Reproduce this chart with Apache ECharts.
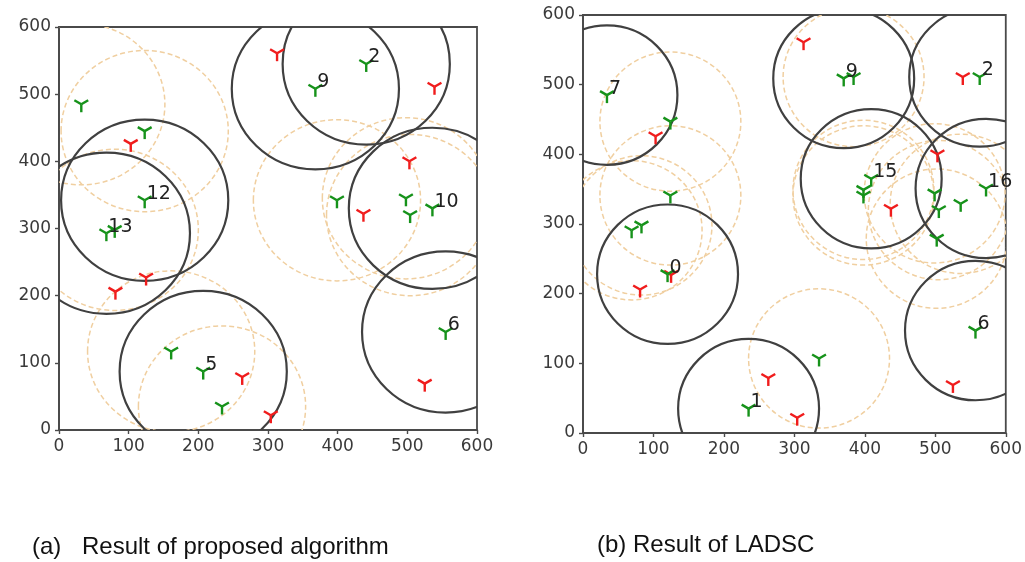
<!DOCTYPE html>
<html>
<head>
<meta charset="utf-8">
<script src="https://cdn.jsdelivr.net/npm/echarts@6/dist/echarts.min.js"></script>
<style>
html,body{margin:0;padding:0;background:#fff;}
#chart{width:1025px;height:562px;}
</style>
</head>
<body>
<div id="chart"></div>
<script>
var ticks = [0, 100, 200, 300, 400, 500, 600];

// (a) proposed algorithm
var greenA = [[32,485],[123,445],[123,342],[68,293],[80,298],[161,117],[207,87],[234,35],
    [368,508],[441,545],[399,342],[498,345],[504,320],[536,330],[555,146]];
var redA = [[313,561],[539,511],[103,426],[503,400],[437,322],[125,227],[81,206],[263,79],[304,22],[525,69]];
var headsA = [[441,545],[368,508],[123,342],[68,293],[536,330],[207,87],[555,146]];
var headNamesA = ['2','9','12','13','10','5','6'];
var memberA = [[32,485],[123,445],[80,298],[161,117],[234,35],[399,342],[498,345],[504,320]];
var radiusA = 120;

// (b) LADSC
var greenB = [[34,485],[124,447],[124,341],[69,291],[83,298],[120,228],[335,107],[235,35],
    [370,509],[384,511],[563,511],[409,365],[398,349],[398,341],[499,344],[505,320],
    [502,279],[536,329],[572,351],[557,147]];
var redB = [[313,561],[539,511],[103,426],[503,400],[437,322],[125,227],[81,206],[263,79],[304,22],[525,69]];
var headsB = [[34,485],[120,228],[235,35],[370,509],[563,511],[409,365],[572,351],[557,147]];
var headNamesB = ['7','0','1','9','2','15','16','6'];
var memberB = [[124,447],[124,341],[69,291],[83,298],[335,107],[384,511],[398,349],[398,341],
    [499,344],[505,320],[502,279],[536,329]];
var radiusB = 100;

var myChart = echarts.init(document.getElementById('chart'));

function circleRender(r, style){
    return function(params, api){
        var c = api.coord([api.value(0), api.value(1)]);
        var s = api.size([r, r]);
        return {
            type: 'ellipse',
            shape: {cx: c[0], cy: c[1], rx: s[0], ry: s[1]},
            style: style
        };
    };
}

function markerRender(color){
    return function(params, api){
        var c = api.coord([api.value(0), api.value(1)]);
        var r = 8;
        var st = {stroke: color, lineWidth: 2.4};
        return {
            type: 'group',
            children: [
                {type: 'line', shape: {x1: c[0], y1: c[1], x2: c[0], y2: c[1] + r}, style: st},
                {type: 'line', shape: {x1: c[0], y1: c[1], x2: c[0] - 0.866 * r, y2: c[1] - 0.5 * r}, style: st},
                {type: 'line', shape: {x1: c[0], y1: c[1], x2: c[0] + 0.866 * r, y2: c[1] - 0.5 * r}, style: st}
            ]
        };
    };
}

function labelRender(names){
    return function(params, api){
        var c = api.coord([api.value(0), api.value(1)]);
        return {
            type: 'text',
            x: c[0] + 2,
            y: c[1] + 3,
            style: {
                text: names[params.dataIndex],
                fill: '#222',
                font: '19px "DejaVu Sans"',
                align: 'left',
                verticalAlign: 'bottom'
            }
        };
    };
}

var dashedStyle = {fill: 'none', stroke: '#f0cfa0', lineWidth: 1.5, lineDash: [5, 3]};
var solidStyle = {fill: 'none', stroke: '#404040', lineWidth: 2.2};

function axisPair(idx){
    return {
        type: 'value', min: 0, max: 600, interval: 100, gridIndex: idx,
        axisLine: {show: true, lineStyle: {color: '#4a4a4a', width: 1.8}},
        axisTick: {show: true, inside: false, length: 4, lineStyle: {color: '#4a4a4a', width: 1.4}},
        axisLabel: {color: '#3a3a3a', fontFamily: 'DejaVu Sans', fontSize: 17, margin: 8},
        splitLine: {show: false}
    };
}

function plotSeries(idx, green, red, heads, names, members, r){
    var ax = {xAxisIndex: idx, yAxisIndex: idx, encode: {x: 0, y: 1}, clip: true, silent: true};
    return [
        Object.assign({type: 'custom', data: members, renderItem: circleRender(r, dashedStyle), z: 1}, ax),
        Object.assign({type: 'custom', data: heads, renderItem: circleRender(r, solidStyle), z: 2}, ax),
        Object.assign({type: 'custom', data: red, renderItem: markerRender('#f01c1c'), z: 3}, ax),
        Object.assign({type: 'custom', data: green, renderItem: markerRender('#16921a'), z: 4}, ax),
        Object.assign({type: 'custom', data: heads, renderItem: labelRender(names), z: 5}, ax, {clip: false})
    ];
}

var option = {
    animation: false,
    backgroundColor: '#fff',
    grid: [
        {left: 59, top: 27, width: 418, height: 403, show: true, borderColor: '#4a4a4a', borderWidth: 1.8, backgroundColor: 'transparent'},
        {left: 583, top: 15, width: 427, height: 418, show: true, borderColor: '#4a4a4a', borderWidth: 1.8, backgroundColor: 'transparent'}
    ],
    xAxis: [axisPair(0), axisPair(1)],
    yAxis: [axisPair(0), axisPair(1)],
    graphic: [
        {type: 'text', left: 32, top: 535, style: {text: '(a)', fill: '#111', font: '24px "Liberation Sans"'}},
        {type: 'text', left: 82, top: 535, style: {text: 'Result of proposed algorithm', fill: '#111', font: '24px "Liberation Sans"'}},
        {type: 'text', left: 597, top: 533, style: {text: '(b) Result of LADSC', fill: '#111', font: '24px "Liberation Sans"'}}
    ],
    series: [].concat(
        plotSeries(0, greenA, redA, headsA, headNamesA, memberA, radiusA),
        plotSeries(1, greenB, redB, headsB, headNamesB, memberB, radiusB)
    )
};

myChart.setOption(option);
</script>
</body>
</html>
